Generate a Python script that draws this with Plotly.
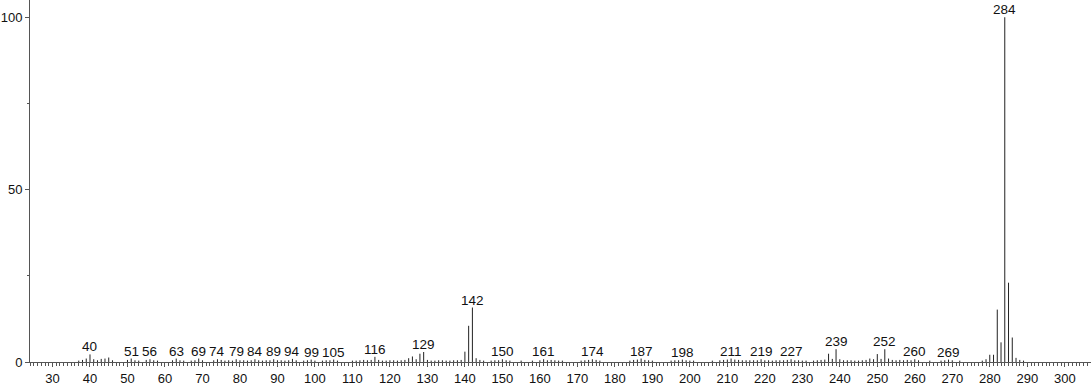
import plotly.graph_objects as go

mz = [37, 38, 39, 40, 41, 42, 43, 44, 45, 46, 50, 51, 52, 53, 55, 56, 57, 58, 62, 63, 64, 65,
      67, 68, 69, 70, 73, 74, 75, 76, 77, 78, 79, 80, 81, 82, 83, 84, 85, 86, 87, 88, 89, 90,
      91, 92, 93, 94, 95, 97, 98, 99, 100, 102, 103, 104, 105, 106, 110, 111, 112, 113, 114,
      115, 116, 117, 118, 119, 120, 121, 122, 123, 124, 125, 126, 127, 128, 129, 130, 131, 132,
      133, 134, 135, 136, 137, 138, 139, 140, 141, 142, 143, 144, 145, 147, 148, 149, 150, 151,
      152, 155, 158, 160, 161, 162, 163, 164, 165, 166, 171, 172, 173, 174, 175, 176, 184, 185,
      186, 187, 188, 189, 190, 195, 196, 197, 198, 199, 200, 201, 206, 208, 209, 210, 211, 212,
      213, 214, 215, 216, 217, 218, 219, 220, 221, 222, 223, 224, 225, 226, 227, 228, 229, 230,
      231, 233, 234, 235, 236, 237, 238, 239, 240, 241, 242, 243, 244, 245, 246, 247, 248, 249,
      250, 251, 252, 253, 254, 255, 256, 257, 258, 259, 260, 261, 264, 267, 268, 269, 270, 272,
      278, 279, 280, 281, 282, 283, 284, 285, 286, 287, 288, 289]
intensity = [0.4, 0.6, 1.0, 2.2, 0.8, 0.5, 0.9, 1.0, 1.3, 0.5, 0.6, 1.0, 0.5, 0.4, 0.6, 0.8, 0.5, 0.4, 0.5, 1.0, 0.5, 0.4,
             0.4, 0.5, 1.0, 0.5, 0.5, 0.8, 0.6, 0.4, 0.5, 0.4, 0.8, 0.5, 0.5, 0.4, 0.5, 0.8, 0.5, 0.4, 0.5, 0.5, 0.8, 0.5,
             0.5, 0.4, 0.5, 0.9, 0.5, 0.4, 0.5, 0.7, 0.4, 0.4, 0.5, 0.5, 0.7, 0.4, 0.4, 0.4, 0.5, 0.6, 0.5,
             0.6, 1.5, 0.6, 0.4, 0.4, 0.5, 0.5, 0.4, 0.5, 0.6, 1.1, 1.6, 0.8, 2.4, 2.9, 0.6, 0.4, 0.4,
             0.5, 0.5, 0.4, 0.4, 0.5, 0.5, 0.6, 3.0, 10.5, 15.8, 1.1, 0.6, 0.4, 0.4, 0.5, 0.5, 0.8, 0.5,
             0.4, 0.4, 0.4, 0.5, 0.8, 0.5, 0.6, 0.5, 0.4, 0.4, 0.4, 0.5, 0.6, 0.8, 0.6, 0.4, 0.4, 0.6,
             0.7, 1.0, 0.6, 0.5, 0.4, 0.4, 0.5, 0.5, 0.7, 0.5, 0.4, 0.4, 0.4, 0.5, 0.6, 0.7, 1.0, 0.7,
             0.6, 0.5, 0.5, 0.5, 0.5, 0.5, 0.8, 0.5, 0.5, 0.4, 0.5, 0.5, 0.5, 0.6, 0.8, 0.5, 0.5, 0.4,
             0.4, 0.4, 0.5, 0.6, 0.7, 2.4, 0.9, 3.7, 0.8, 0.5, 0.5, 0.5, 0.4, 0.4, 0.5, 0.6, 1.0, 0.8,
             2.3, 0.9, 3.7, 1.0, 0.6, 0.5, 0.6, 0.5, 0.6, 0.5, 0.8, 0.5, 0.4, 0.4, 0.5, 0.7, 0.5, 0.4,
             0.4, 0.8, 2.1, 2.1, 15.2, 5.7, 100.0, 23.0, 7.1, 1.2, 0.6, 0.4]

label_mz = [40, 51, 56, 63, 69, 74, 79, 84, 89, 94, 99, 105, 116, 129, 142, 150, 161, 174, 187,
            198, 211, 219, 227, 239, 252, 260, 269, 284]

x_ticks = [30, 40, 50, 60, 70, 80, 90, 100, 110, 120, 130, 140, 150, 160, 170, 180, 190, 200,
           210, 220, 230, 240, 250, 260, 270, 280, 290, 300]
y_ticks = [0, 50, 100]

# stick spectrum built from the arrays
xs, ys = [], []
for m, h in zip(mz, intensity):
    xs += [m, m, None]
    ys += [0, h, None]

fig = go.Figure()
fig.add_trace(go.Scatter(x=xs, y=ys, mode="lines",
                         line=dict(color="#222222", width=1),
                         hoverinfo="skip", showlegend=False))

lookup = dict(zip(mz, intensity))
for m in label_mz:
    fig.add_annotation(x=m, y=lookup[m], text=str(m), showarrow=False,
                       yanchor="bottom", xanchor="center", yshift=-2,
                       font=dict(family="Liberation Sans, Arial, sans-serif", size=13.5, color="#111111"))

axis_font = dict(family="Liberation Sans, Arial, sans-serif", size=13, color="#111111")
fig.update_layout(
    width=1091, height=387,
    margin=dict(l=30, r=0, t=0, b=25, autoexpand=False),
    paper_bgcolor="white", plot_bgcolor="white",
    showlegend=False,
    xaxis=dict(range=[24, 307], tickvals=x_ticks, ticktext=[str(v) for v in x_ticks],
               automargin=False,
               showline=True, linecolor="#555555", linewidth=1, ticks="outside",
               ticklen=4, tickcolor="#555555", showgrid=False, zeroline=False,
               tickfont=axis_font,
               minor=dict(dtick=1, tick0=0, ticks="outside", ticklen=3, tickcolor="#555555", showgrid=False)),
    yaxis=dict(range=[0, 105], tickvals=y_ticks, ticktext=[str(v) for v in y_ticks],
               automargin=False,
               showline=True, linecolor="#555555", linewidth=1, ticks="outside",
               ticklen=4, tickcolor="#555555", showgrid=False, zeroline=False,
               tickfont=axis_font, ticklabelstandoff=0,
               minor=dict(dtick=25, tick0=0, ticks="outside", ticklen=2, tickcolor="#555555", showgrid=False)),
)

fig.write_html("out.html")
